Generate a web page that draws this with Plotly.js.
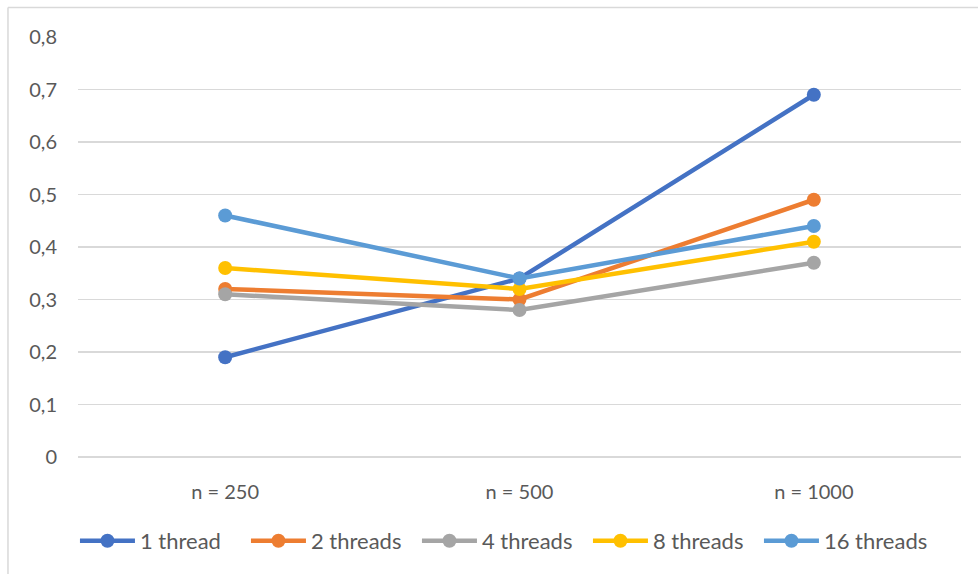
<!DOCTYPE html>
<html>
<head>
<meta charset="utf-8">
<script src="https://cdn.plot.ly/plotly-3.0.1.min.js"></script>
<style>
  html, body { margin: 0; padding: 0; background: #ffffff; }
  #chart { width: 978px; height: 574px; }
</style>
</head>
<body>
<div id="chart"></div>
<script>
// Problem sizes on the category axis
const categories = ['n = 250', 'n = 500', 'n = 1000'];

// Run time per thread count
const seriesNames = ['1 thread', '2 threads', '4 threads', '8 threads', '16 threads'];
const thread1  = [0.19, 0.34, 0.69];
const threads2 = [0.32, 0.30, 0.49];
const threads4 = [0.31, 0.28, 0.37];
const threads8 = [0.36, 0.32, 0.41];
const threads16 = [0.46, 0.34, 0.44];

const seriesValues = [thread1, threads2, threads4, threads8, threads16];
const seriesColors = ['#4472C4', '#ED7D31', '#A5A5A5', '#FFC000', '#5B9BD5'];

const traces = seriesValues.map((vals, i) => ({
  type: 'scatter',
  mode: 'lines+markers',
  name: seriesNames[i],
  x: categories,
  y: vals,
  line: { color: seriesColors[i], width: 4.5 },
  marker: { color: seriesColors[i], size: 14 }
}));

const gridColor = '#d9d9d9';
const textColor = '#595959';

const layout = {
  width: 978,
  height: 574,
  margin: { l: 78, r: 17, t: 37, b: 117 },
  paper_bgcolor: '#ffffff',
  plot_bgcolor: '#ffffff',
  separators: ', ',
  font: { family: 'Lato, "Open Sans", sans-serif', size: 20, color: textColor },
  showlegend: true,
  legend: {
    orientation: 'h',
    x: 0.4807, xanchor: 'center',
    y: -0.2, yanchor: 'middle',
    font: { size: 22, color: textColor },
    itemwidth: 55,
    entrywidth: 101,
    entrywidthmode: 'pixels'
  },
  xaxis: {
    type: 'category',
    range: [-0.5, 2.5],
    showgrid: false,
    zeroline: false,
    showline: false,
    ticks: '',
    ticklabelstandoff: 21,
    fixedrange: true
  },
  yaxis: {
    range: [0, 0.8],
    dtick: 0.1,
    tick0: 0,
    showgrid: true,
    gridcolor: gridColor,
    gridwidth: 1.3,
    zeroline: true,
    zerolinecolor: gridColor,
    zerolinewidth: 1.3,
    showline: false,
    ticks: '',
    ticklabelstandoff: 20,
    fixedrange: true
  },
  shapes: [
    // chart frame: top and left edges
    { type: 'line', xref: 'paper', yref: 'paper', x0: -0.0793, x1: 1.03, y0: 1.0702, y1: 1.0702,
      line: { color: gridColor, width: 1.5 } },
    { type: 'line', xref: 'paper', yref: 'paper', x0: -0.0793, x1: -0.0793, y0: 1.0702, y1: -0.3,
      line: { color: gridColor, width: 1.5 } }
  ]
};

Plotly.newPlot('chart', traces, layout, { displayModeBar: false, staticPlot: true });
</script>
</body>
</html>
